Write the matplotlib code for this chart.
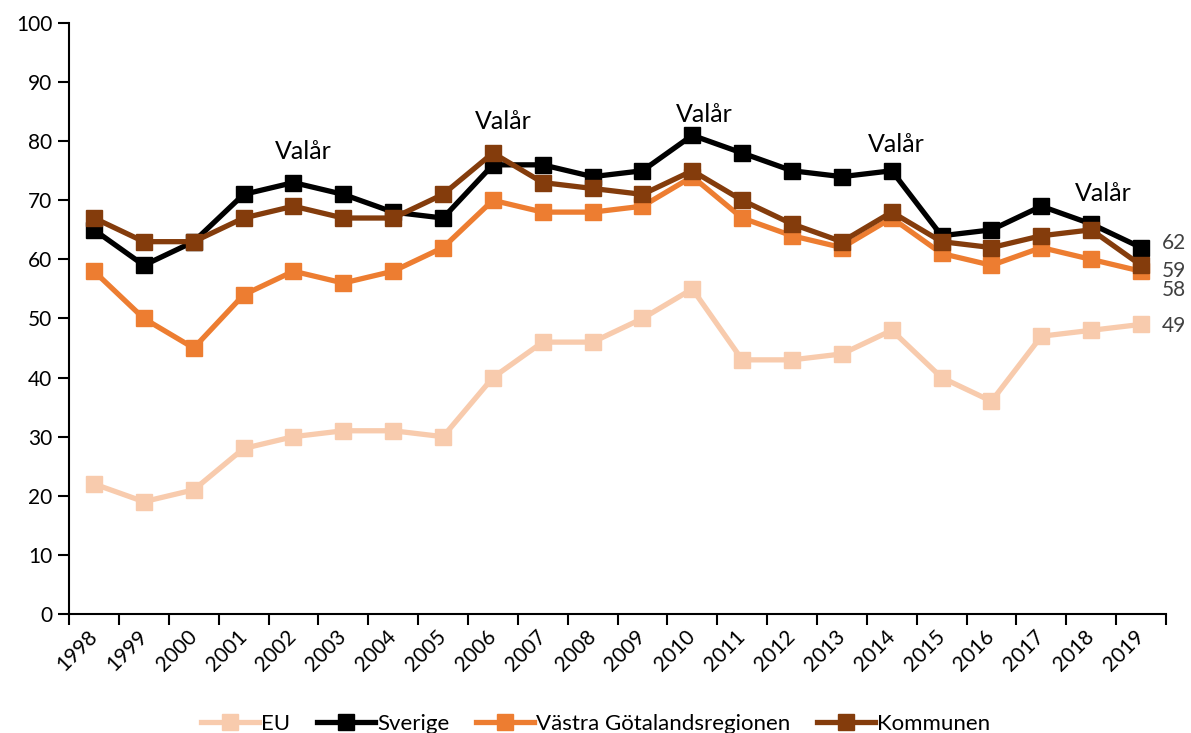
import numpy as np
import matplotlib.pyplot as plt

plt.rcParams['font.family'] = ['Lato', 'DejaVu Sans']

years = [str(y) for y in range(1998, 2020)]
eu = [22, 19, 21, 28, 30, 31, 31, 30, 40, 46, 46, 50, 55, 43, 43, 44, 48, 40, 36, 47, 48, 49]
sverige = [65, 59, 63, 71, 73, 71, 68, 67, 76, 76, 74, 75, 81, 78, 75, 74, 75, 64, 65, 69, 66, 62]
vgr = [58, 50, 45, 54, 58, 56, 58, 62, 70, 68, 68, 69, 74, 67, 64, 62, 67, 61, 59, 62, 60, 58]
kommunen = [67, 63, 63, 67, 69, 67, 67, 71, 78, 73, 72, 71, 75, 70, 66, 63, 68, 63, 62, 64, 65, 59]

# election-year annotations (x index, y value)
valar_x = [4.2, 8.2, 12.25, 16.1, 20.25]
valar_y = [78.2, 83.4, 84.6, 79.5, 71.2]

series = [
    ('EU', eu, '#F8CBAD'),
    ('Sverige', sverige, '#000000'),
    ('Västra Götalandsregionen', vgr, '#ED7D31'),
    ('Kommunen', kommunen, '#843C0C'),
]

fig = plt.figure(figsize=(11.91, 7.33), dpi=100)
ax = fig.add_axes([0.058, 0.1624, 0.921, 0.8062])

x = np.arange(len(years))
for name, vals, col in series:
    ax.plot(x, vals, color=col, lw=3.8, marker='s', markersize=11,
            label=name, solid_joinstyle='miter')

ax.set_xlim(-0.5, len(years) - 0.5)
ax.set_ylim(0, 100)
ax.set_yticks(np.arange(0, 101, 10))

ax.set_xticks(x)
ax.set_xticklabels(years, rotation=45, ha='right', va='center',
                   rotation_mode='anchor')
ax.set_xticks(np.arange(-0.5, len(years)), minor=True)
ax.tick_params(axis='x', which='major', length=0, pad=14, labelsize=15)
ax.tick_params(axis='x', which='minor', length=8, width=1.5, direction='out')
ax.tick_params(axis='y', length=8, width=1.5, labelsize=15, pad=4)

for s in ['top', 'right']:
    ax.spines[s].set_visible(False)
for s in ['left', 'bottom']:
    ax.spines[s].set_linewidth(1.5)

for vx, vy in zip(valar_x, valar_y):
    ax.text(vx, vy, 'Valår', ha='center', va='center', fontsize=18)

# end labels, nudged apart where they would overlap
end_offsets = {'Sverige': 0.7, 'Västra Götalandsregionen': -3.2, 'Kommunen': -0.9, 'EU': -0.3}
for name, vals, col in series:
    ax.annotate(str(vals[-1]), xy=(x[-1], vals[-1] + end_offsets[name]),
                xytext=(15, 0), textcoords='offset points', va='center',
                ha='left', fontsize=15, color='#404040', annotation_clip=False)

fig.legend(loc='center', bbox_to_anchor=(0.5, 0.012), ncol=4, frameon=False,
           fontsize=16, handlelength=2.6, handletextpad=0.1, columnspacing=1.2,
           markerscale=1.0, numpoints=1)

fig.savefig('out.png', dpi=100)
